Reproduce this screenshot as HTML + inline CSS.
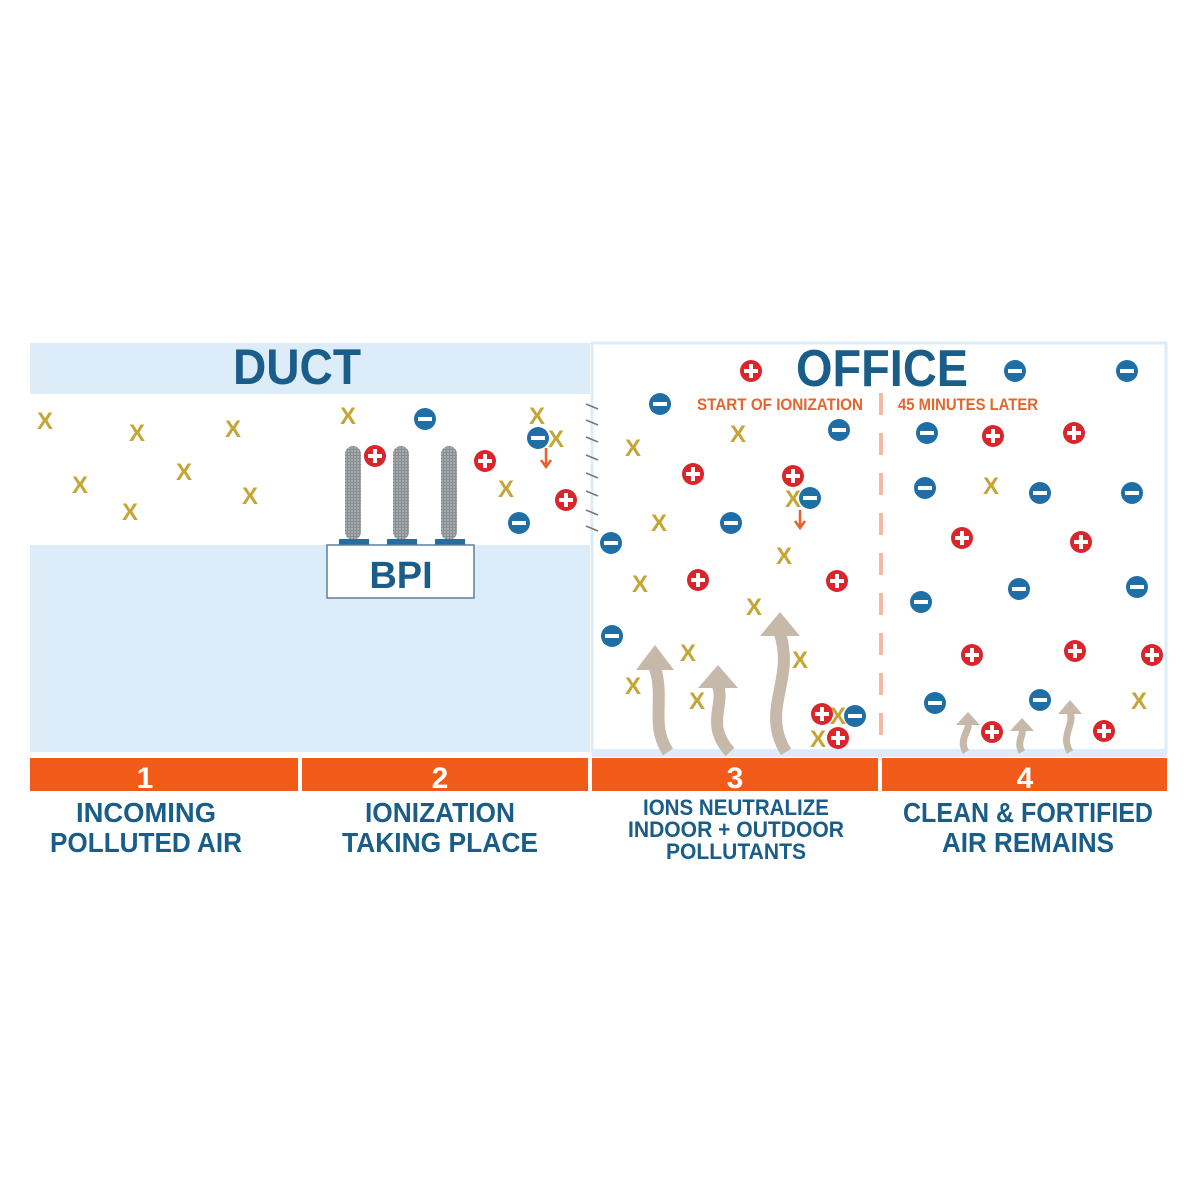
<!DOCTYPE html>
<html><head><meta charset="utf-8"><style>
html,body{margin:0;padding:0;background:#fff;}
svg{display:block;}
.x{font-family:"Liberation Sans",sans-serif;font-weight:bold;font-size:24px;fill:#c4a535;text-anchor:middle;}
.lbl{font-family:"Liberation Sans",sans-serif;font-weight:bold;fill:#195d88;text-anchor:middle;}
.num{font-family:"Liberation Sans",sans-serif;font-weight:bold;font-size:30px;fill:#fff;text-anchor:middle;}
.or{font-family:"Liberation Sans",sans-serif;font-weight:bold;font-size:17px;fill:#e4652e;text-anchor:middle;}
</style></head><body>
<svg width="1200" height="1200" viewBox="0 0 1200 1200" xmlns="http://www.w3.org/2000/svg">
<defs>
<g id="m"><circle r="11" fill="#1f6ea6"/><rect x="-7" y="-2" width="14" height="4" fill="#fff"/></g>
<g id="p"><circle r="11" fill="#d8262c"/><rect x="-7" y="-2" width="14" height="4" fill="#fff"/><rect x="-2" y="-7" width="4" height="14" fill="#fff"/></g>
<pattern id="mesh" width="3" height="3" patternUnits="userSpaceOnUse"><rect width="3" height="3" fill="#8a8d90"/><rect width="2" height="2" fill="#a9abad"/></pattern>
</defs>
<!-- duct -->
<rect x="30" y="343" width="560" height="51" fill="#dcedf9"/>
<rect x="30" y="545" width="560" height="207" fill="#dcedf9"/>
<text class="lbl" x="297" y="384" font-size="50" textLength="128" lengthAdjust="spacingAndGlyphs">DUCT</text>
<!-- office border -->
<rect x="592" y="343" width="574" height="409" fill="#fff" stroke="#dcedf9" stroke-width="3"/>
<rect x="592" y="749" width="575" height="8" fill="#dcedf9"/>
<text class="lbl" x="882" y="386" font-size="52" textLength="172" lengthAdjust="spacingAndGlyphs">OFFICE</text>
<text class="or" x="780" y="410" textLength="166" lengthAdjust="spacingAndGlyphs">START OF IONIZATION</text>
<text class="or" x="968" y="410" textLength="140" lengthAdjust="spacingAndGlyphs">45 MINUTES LATER</text>
<line x1="881" y1="393" x2="881" y2="750" stroke="#f4b9a2" stroke-width="4" stroke-dasharray="22,18"/>
<!-- hash marks -->
<g stroke="#777" stroke-width="1.5">
<line x1="586" y1="404" x2="598" y2="409"/><line x1="586" y1="420" x2="598" y2="425"/><line x1="586" y1="437" x2="598" y2="442"/><line x1="586" y1="455" x2="598" y2="460"/><line x1="586" y1="473" x2="598" y2="478"/><line x1="586" y1="491" x2="598" y2="496"/><line x1="586" y1="510" x2="598" y2="515"/><line x1="586" y1="526" x2="598" y2="531"/>
</g>
<!-- BPI -->
<g>
<rect x="345" y="446" width="16" height="94" rx="8" fill="url(#mesh)"/>
<rect x="393" y="446" width="16" height="94" rx="8" fill="url(#mesh)"/>
<rect x="441" y="446" width="16" height="94" rx="8" fill="url(#mesh)"/>
<rect x="339" y="539" width="30" height="6" fill="#1f6ea6"/>
<rect x="387" y="539" width="30" height="6" fill="#1f6ea6"/>
<rect x="435" y="539" width="30" height="6" fill="#1f6ea6"/>
<rect x="327" y="545" width="147" height="53" fill="#fff" stroke="#5d7f99" stroke-width="1.5"/>
<text class="lbl" x="401" y="588" font-size="38">BPI</text>
</g>
<!-- tan arrows -->
<g fill="none" stroke="#c6b9aa" stroke-width="12">
<path d="M668 752 C650 725 665 700 655 668"/>
<path d="M730 752 C705 725 725 705 718 686"/>
<path d="M786 752 C760 710 795 680 780 634"/>
<path d="M966 752 C958 740 970 730 968 724" stroke-width="7"/>
<path d="M1022 752 C1016 742 1024 735 1022 730" stroke-width="7"/>
<path d="M1070 752 C1060 735 1075 725 1070 712" stroke-width="7"/>
</g>
<g fill="#c6b9aa">
<polygon points="636,670 674,670 655,645"/>
<polygon points="698,688 738,688 718,665"/>
<polygon points="760,636 800,636 780,612"/>
<polygon points="956,725 980,725 968,712"/>
<polygon points="1010,731 1034,731 1022,718"/>
<polygon points="1058,714 1082,714 1070,700"/>
</g>
<!-- small orange arrows -->
<g stroke="#e8602a" stroke-width="2.5" fill="none"><path d="M546 448 V466 M541 460 L546 467 L551 460"/><path d="M800 510 V527 M795 521 L800 528 L805 521"/></g>
<!-- X -->
<g class="x">
<text x="45" y="429">X</text><text x="137" y="441">X</text><text x="233" y="437">X</text><text x="80" y="493">X</text><text x="184" y="480">X</text><text x="250" y="504">X</text><text x="130" y="520">X</text><text x="348" y="424">X</text><text x="537" y="424">X</text><text x="556" y="447">X</text><text x="506" y="497">X</text><text x="633" y="456">X</text><text x="738" y="442">X</text><text x="659" y="531">X</text><text x="793" y="507">X</text><text x="784" y="564">X</text><text x="640" y="592">X</text><text x="754" y="615">X</text><text x="688" y="661">X</text><text x="800" y="668">X</text><text x="633" y="694">X</text><text x="697" y="709">X</text><text x="838" y="724">X</text><text x="818" y="747">X</text><text x="991" y="494">X</text><text x="1139" y="709">X</text>
</g>
<!-- minus -->
<use href="#m" x="425" y="419"/><use href="#m" x="538" y="438"/><use href="#m" x="519" y="523"/><use href="#m" x="660" y="404"/><use href="#m" x="839" y="430"/><use href="#m" x="731" y="523"/><use href="#m" x="810" y="498"/><use href="#m" x="611" y="543"/><use href="#m" x="612" y="636"/><use href="#m" x="855" y="716"/><use href="#m" x="1015" y="371"/><use href="#m" x="1127" y="371"/><use href="#m" x="927" y="433"/><use href="#m" x="925" y="488"/><use href="#m" x="1040" y="493"/><use href="#m" x="1132" y="493"/><use href="#m" x="1019" y="589"/><use href="#m" x="1137" y="587"/><use href="#m" x="921" y="602"/><use href="#m" x="935" y="703"/><use href="#m" x="1040" y="700"/>
<!-- plus -->
<use href="#p" x="375" y="456"/><use href="#p" x="485" y="461"/><use href="#p" x="566" y="500"/><use href="#p" x="751" y="371"/><use href="#p" x="693" y="474"/><use href="#p" x="793" y="476"/><use href="#p" x="698" y="580"/><use href="#p" x="837" y="581"/><use href="#p" x="822" y="714"/><use href="#p" x="838" y="738"/><use href="#p" x="993" y="436"/><use href="#p" x="1074" y="433"/><use href="#p" x="962" y="538"/><use href="#p" x="1081" y="542"/><use href="#p" x="972" y="655"/><use href="#p" x="1075" y="651"/><use href="#p" x="1152" y="655"/><use href="#p" x="992" y="732"/><use href="#p" x="1104" y="731"/>
<!-- orange bars -->
<g fill="#f15a19">
<rect x="30" y="758" width="268" height="33"/><rect x="302" y="758" width="286" height="33"/><rect x="592" y="758" width="286" height="33"/><rect x="882" y="758" width="285" height="33"/>
</g>
<text class="num" x="145" y="788">1</text><text class="num" x="440" y="788">2</text><text class="num" x="735" y="788">3</text><text class="num" x="1025" y="788">4</text>
<!-- labels -->
<g class="lbl" font-size="28">
<text x="146" y="822" textLength="140" lengthAdjust="spacingAndGlyphs">INCOMING</text>
<text x="146" y="852" textLength="192" lengthAdjust="spacingAndGlyphs">POLLUTED AIR</text>
<text x="440" y="822" textLength="150" lengthAdjust="spacingAndGlyphs">IONIZATION</text>
<text x="440" y="852" textLength="196" lengthAdjust="spacingAndGlyphs">TAKING PLACE</text>
<text x="1028" y="822" textLength="250" lengthAdjust="spacingAndGlyphs">CLEAN &amp; FORTIFIED</text>
<text x="1028" y="852" textLength="172" lengthAdjust="spacingAndGlyphs">AIR REMAINS</text>
</g>
<g class="lbl" font-size="22">
<text x="736" y="815" textLength="186" lengthAdjust="spacingAndGlyphs">IONS NEUTRALIZE</text>
<text x="736" y="837" textLength="216" lengthAdjust="spacingAndGlyphs">INDOOR + OUTDOOR</text>
<text x="736" y="859" textLength="140" lengthAdjust="spacingAndGlyphs">POLLUTANTS</text>
</g>
</svg>
</body></html>
